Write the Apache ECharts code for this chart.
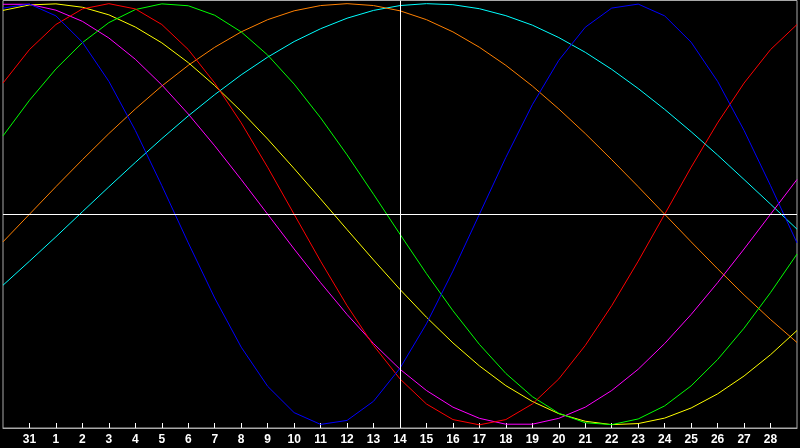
<!DOCTYPE html>
<html>
<head>
<meta charset="utf-8">
<script src="https://cdn.jsdelivr.net/npm/echarts@6/dist/echarts.min.js"></script>
<style>
  html, body { margin: 0; padding: 0; background: #000; }
  #chart { width: 800px; height: 448px; }
</style>
</head>
<body>
<div id="chart"></div>
<script>
// day labels along the bottom (first and last slots have no label)
const days = ['', '31', '1', '2', '3', '4', '5', '6', '7', '8', '9', '10', '11', '12', '13',
  '14', '15', '16', '17', '18', '19', '20', '21', '22', '23', '24', '25', '26', '27', '28', ''];

// curve values (-1 .. 1)
const physical = [0.979, 0.998, 0.942, 0.817, 0.631, 0.398, 0.136, -0.136, -0.398, -0.631, -0.817,
  -0.942, -0.998, -0.979, -0.888, -0.731, -0.520, -0.270, 0.000, 0.270, 0.520,
  0.731, 0.888, 0.979, 0.998, 0.942, 0.817, 0.631, 0.398, 0.136, -0.136];
const emotional = [0.623, 0.782, 0.901, 0.975, 1.000, 0.975, 0.901, 0.782, 0.623, 0.434, 0.223,
  0.000, -0.223, -0.434, -0.623, -0.782, -0.901, -0.975, -1.000, -0.975, -0.901,
  -0.782, -0.623, -0.434, -0.223, 0.000, 0.223, 0.434, 0.623, 0.782, 0.901];
const intellectual = [0.372, 0.541, 0.690, 0.815, 0.910, 0.972, 0.999, 0.990, 0.945, 0.866, 0.756,
  0.618, 0.458, 0.282, 0.095, -0.095, -0.282, -0.458, -0.618, -0.756, -0.866,
  -0.945, -0.990, -0.999, -0.972, -0.910, -0.815, -0.690, -0.541, -0.372, -0.189];
const intuitive = [0.997, 0.997, 0.969, 0.916, 0.837, 0.736, 0.614, 0.476, 0.325, 0.165, 0.000,
  -0.165, -0.325, -0.476, -0.614, -0.736, -0.837, -0.916, -0.969, -0.997, -0.997,
  -0.969, -0.916, -0.837, -0.736, -0.614, -0.476, -0.325, -0.165, 0.000, 0.165];
const aesthetic = [0.968, 0.994, 0.999, 0.983, 0.947, 0.889, 0.814, 0.720, 0.611, 0.489, 0.357,
  0.217, 0.073, -0.073, -0.217, -0.357, -0.489, -0.611, -0.720, -0.814, -0.889,
  -0.947, -0.983, -0.999, -0.994, -0.968, -0.920, -0.853, -0.768, -0.667, -0.552];
const awareness = [-0.131, 0.000, 0.131, 0.259, 0.383, 0.500, 0.609, 0.707, 0.793, 0.866, 0.924,
  0.966, 0.991, 1.000, 0.991, 0.966, 0.924, 0.866, 0.793, 0.707, 0.609,
  0.500, 0.383, 0.259, 0.131, 0.000, -0.131, -0.259, -0.383, -0.500, -0.609];
const spiritual = [-0.337, -0.223, -0.107, 0.012, 0.130, 0.246, 0.359, 0.467, 0.568, 0.662, 0.746,
  0.820, 0.881, 0.931, 0.968, 0.991, 1.000, 0.995, 0.976, 0.943, 0.898,
  0.839, 0.769, 0.688, 0.597, 0.498, 0.392, 0.281, 0.165, 0.048, -0.071];

const todayIndex = 15; // the "14" column

const chart = echarts.init(document.getElementById('chart'));

function curve(name, data, color) {
  return {
    name: name,
    type: 'line',
    data: data,
    showSymbol: false,
    symbol: 'none',
    lineStyle: { width: 1, color: color },
    itemStyle: { color: color }
  };
}

const option = {
  backgroundColor: '#000',
  animation: false,
  grid: {
    left: 0.5,
    top: 0.5,
    width: 801,
    height: 427.5,
    show: true,
    backgroundColor: 'transparent',
    borderColor: '#a8a8a8',
    borderWidth: 1
  },
  xAxis: {
    type: 'category',
    data: days,
    boundaryGap: false,
    axisLine: { show: true, onZero: false, lineStyle: { color: '#a8a8a8', width: 1 } },
    axisTick: {
      show: true,
      inside: true,
      length: 5,
      interval: function (index) { return index > 0 && index < days.length - 1; },
      lineStyle: { color: '#fff', width: 1 }
    },
    axisLabel: {
      interval: 0,
      margin: 6,
      color: '#fff',
      fontFamily: 'Liberation Sans',
      fontWeight: 'bold',
      fontSize: 12
    },
    splitLine: { show: false }
  },
  yAxis: {
    type: 'value',
    min: -1.015,
    max: 1.015,
    show: false
  },
  series: [
    curve('Spiritual', spiritual, '#00ffff'),
    curve('Awareness', awareness, '#ff8000'),
    curve('Aesthetic', aesthetic, '#ffff00'),
    curve('Intuitive', intuitive, '#ff00ff'),
    curve('Intellectual', intellectual, '#00ff00'),
    curve('Emotional', emotional, '#ff0000'),
    Object.assign(curve('Physical', physical, '#0000ff'), {
      markLine: {
        silent: true,
        symbol: 'none',
        label: { show: false },
        lineStyle: { color: '#fff', width: 1, type: 'solid' },
        data: [{ yAxis: 0 }, { xAxis: todayIndex }]
      }
    })
  ]
};

chart.setOption(option);
</script>
</body>
</html>
